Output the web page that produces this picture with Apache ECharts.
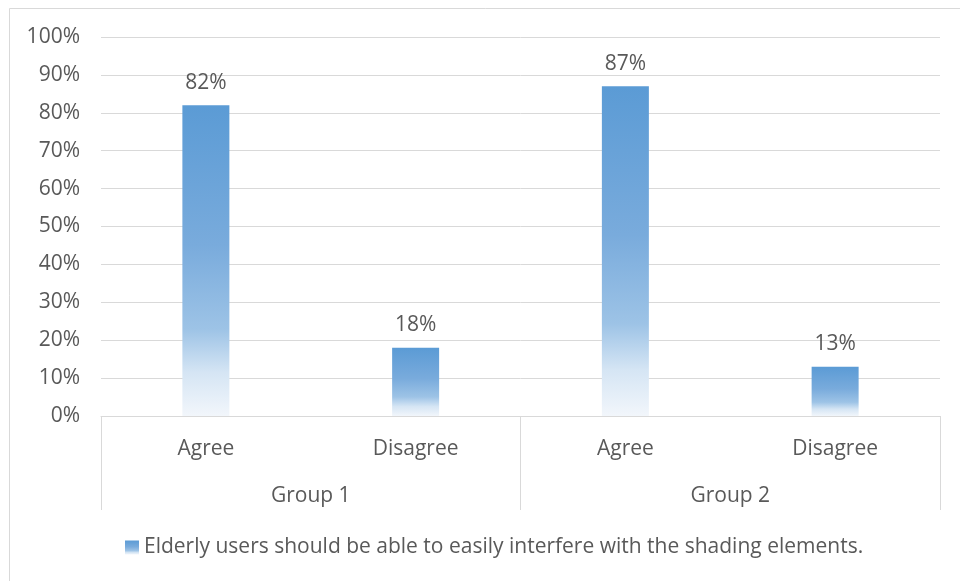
<!DOCTYPE html>
<html>
<head>
<meta charset="utf-8">
<script src="https://cdn.jsdelivr.net/npm/echarts@6/dist/echarts.min.js"></script>
<style>
  html, body { margin: 0; padding: 0; background: #fff; }
  #chart { width: 960px; height: 581px; }
</style>
</head>
<body>
<div id="chart"></div>
<script>
// Survey responses, two groups of participants
const responseLabels = ['Agree', 'Disagree', 'Agree', 'Disagree'];
const groupLabels = ['Group 1', 'Group 2'];
const sharePercent = [82, 18, 87, 13];
const seriesName = 'Elderly users should be able to easily interfere with the shading elements.';
const yTicks = [0, 10, 20, 30, 40, 50, 60, 70, 80, 90, 100];

const textColor = '#595959';
const lineColor = '#d9d9d9';
const fontFamily = '"Open Sans", Lato, sans-serif';
const fontSize = 21;

// Blue fading to near-white toward the base of each bar
const barFill = new echarts.graphic.LinearGradient(0, 0, 0, 1, [
  { offset: 0, color: '#5b9bd5' },
  { offset: 0.45, color: '#79abdc' },
  { offset: 0.72, color: '#9dc3e6' },
  { offset: 0.86, color: '#d5e5f4' },
  { offset: 1, color: '#f2f6fb' }
]);

const chart = echarts.init(document.getElementById('chart'), null, { renderer: 'canvas' });

chart.setOption({
  animation: false,
  backgroundColor: '#ffffff',
  textStyle: { fontFamily: fontFamily },
  graphic: [{
    type: 'rect',
    shape: { x: 9.5, y: 8.5, width: 1000, height: 1000 },
    style: { fill: 'none', stroke: lineColor, lineWidth: 1 },
    silent: true
  }],
  grid: { left: 101, right: 20, top: 37, bottom: 165, containLabel: false },
  legend: {
    left: 125,
    top: 537,
    padding: 0,
    itemWidth: 14,
    itemHeight: 14,
    itemGap: 6,
    icon: 'rect',
    textStyle: { color: textColor, fontSize: fontSize, fontFamily: fontFamily },
    data: [seriesName]
  },
  xAxis: [
    {
      type: 'category',
      data: responseLabels,
      position: 'bottom',
      axisLine: { show: true, lineStyle: { color: lineColor, width: 1 } },
      axisTick: { show: false },
      axisLabel: { color: textColor, fontSize: fontSize, margin: 23, fontFamily: fontFamily }
    },
    {
      type: 'category',
      data: groupLabels,
      position: 'bottom',
      gridIndex: 0,
      axisLine: { show: false },
      axisTick: { show: true, length: 94, alignWithLabel: false, lineStyle: { color: lineColor, width: 1 } },
      axisLabel: { color: textColor, fontSize: fontSize, margin: 70, fontFamily: fontFamily }
    }
  ],
  yAxis: {
    type: 'value',
    min: 0,
    max: 100,
    interval: 10,
    axisLine: { show: false },
    axisTick: { show: false },
    splitLine: { lineStyle: { color: lineColor, width: 1 } },
    axisLabel: {
      color: textColor,
      fontSize: fontSize,
      margin: 21,
      fontFamily: fontFamily,
      formatter: function (v) { return yTicks.indexOf(v) >= 0 ? v + '%' : ''; }
    }
  },
  series: [{
    name: seriesName,
    type: 'bar',
    xAxisIndex: 0,
    data: sharePercent,
    barWidth: 47,
    itemStyle: { color: barFill },
    label: {
      show: true,
      position: 'top',
      distance: 12,
      color: textColor,
      fontSize: fontSize,
      fontFamily: fontFamily,
      formatter: function (p) { return p.value + '%'; }
    }
  }]
});
</script>
</body>
</html>
